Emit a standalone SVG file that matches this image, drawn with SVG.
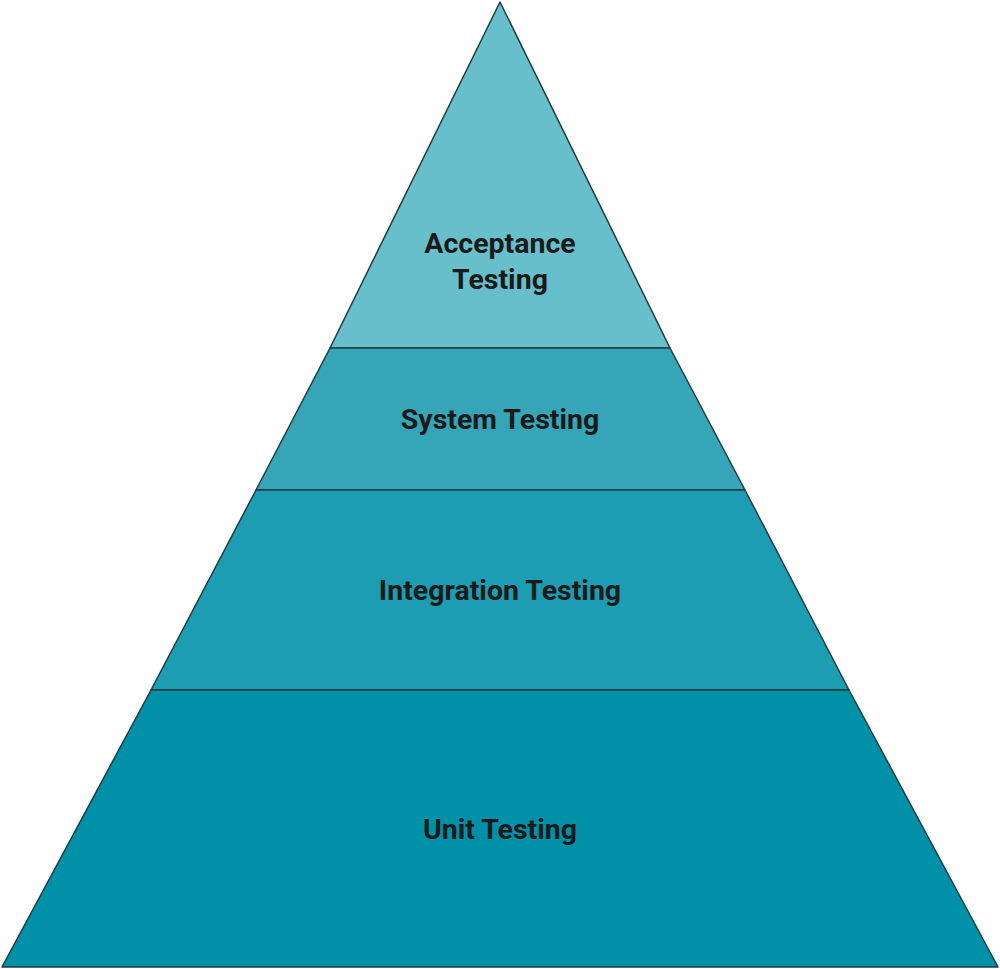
<svg xmlns="http://www.w3.org/2000/svg" width="1000" height="969" viewBox="0 0 1000 969">
<style>
.s{stroke:#1f3b42;stroke-width:1.5;stroke-linejoin:round}
.t{font-family:Roboto,"Liberation Sans",sans-serif;font-weight:bold;font-size:28.5px;fill:#1a1a1a;text-anchor:middle}
</style>
<rect width="1000" height="969" fill="#fff"/>
<g id="acceptance"><polygon class="s" fill="#67bfcb" points="500,2 670,348 330,348"/><text class="t" x="500" y="253">Acceptance</text><text class="t" x="500" y="289">Testing</text></g>
<g id="system"><polygon class="s" fill="#35a5b7" points="330,348 670,348 745,490 256,490"/><text class="t" x="500" y="429">System Testing</text></g>
<g id="integration"><polygon class="s" fill="#1c9db1" points="256,490 745,490 849,690 151,690"/><text class="t" x="500" y="600">Integration Testing</text></g>
<g id="unit"><polygon class="s" fill="#0091a8" points="151,690 849,690 998,967 2,967"/><text class="t" x="500" y="839">Unit Testing</text></g>
<g id="connectors"/>
</svg>
